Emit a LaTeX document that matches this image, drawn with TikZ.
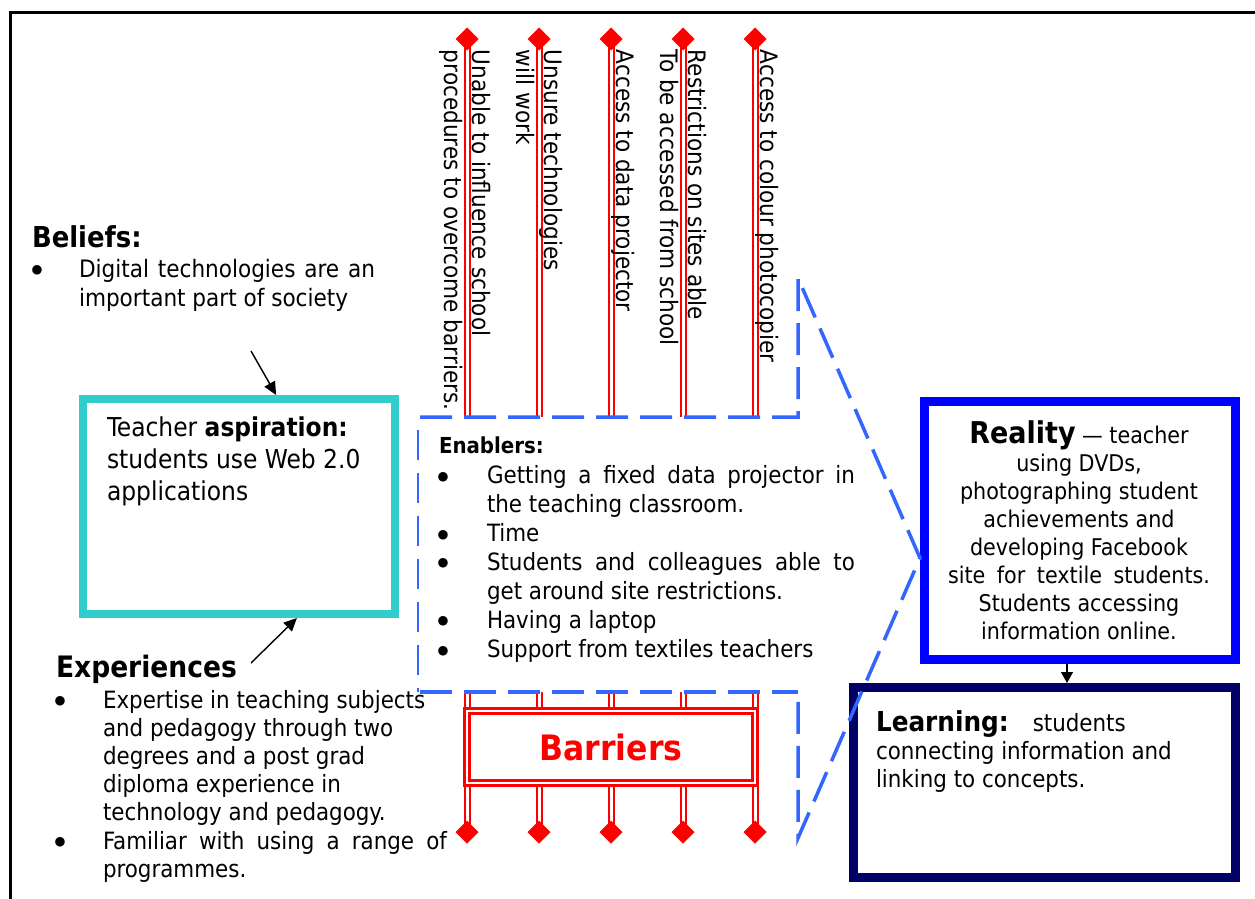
\documentclass[tikz,border=0pt]{standalone}
\usepackage{fontspec}
\setmainfont{DejaVu Sans Condensed}
\newfontfamily\symf{DejaVu Sans}
\usetikzlibrary{arrows.meta,shapes.geometric,calc}
\definecolor{dblue}{RGB}{51,102,255}
\definecolor{cyanb}{RGB}{51,204,204}
\definecolor{realb}{RGB}{0,0,255}
\definecolor{navyb}{RGB}{0,0,102}
\newcommand{\jl}[2]{\makebox[#1][s]{#2}}
\newcommand{\llines}[1]{\vtop{\halign{##\hfil\cr#1\crcr}}}
\newcommand{\clines}[1]{\vtop{\halign{\hfil##\hfil\cr#1\crcr}}}
\pgfdeclarelayer{background}
\pgfsetlayers{background,main}
\begin{document}
\begin{tikzpicture}[x=1pt,y=-1pt,
  every node/.style={inner sep=0pt,outer sep=0pt},
  bul/.style={font=\symf\fontsize{12.5}{13}\selectfont, anchor=center},
  vtext/.style={font=\fontsize{24}{28}\selectfont, rotate=-90, anchor=base west},
  bardiam/.style={diamond, fill=red, minimum width=23pt, minimum height=23pt},
  barline/.style={draw=red, line width=2pt, double=white, double distance=3pt},
  calldash/.style={draw=dblue, line width=3.5pt, dash pattern=on 32pt off 12pt},
  thindash/.style={draw=dblue, line width=1.5pt, dash pattern=on 30pt off 13pt},
  arr/.style={line width=1.4pt, -{Triangle[length=13pt,width=12pt]}},
  arrs/.style={line width=1.2pt, -{Triangle[length=11pt,width=12pt]}},
]
\useasboundingbox (0,0) rectangle (1255,899);
% frame
\draw[line width=3pt] (1262,13) -- (10,13) -- (10,905);

% callout (enablers) white body
\coordinate (ca) at (420,417);
\coordinate (cb) at (798,417);
\coordinate (cc) at (798,278);
\coordinate (ct) at (920,558);
\coordinate (cd) at (798,838);
\coordinate (ce) at (798,692);
\coordinate (cf) at (420,692);
\fill[white] (ca) -- (cb) -- (cc) -- (ct) -- (cd) -- (ce) -- (cf) -- cycle;

% barrier diamonds and box
\foreach \i/\x in {1/467,2/539,3/611,4/683,5/755} {
  \node[bardiam] (dt\i) at (\x,39) {};
  \node[bardiam] (db\i) at (\x,832) {};
}
\node[draw=red, line width=2.4pt, double=white, double distance=2.8pt,
  minimum width=288pt, minimum height=72pt, text=red,
  font=\fontsize{35}{35}\selectfont\bfseries] (bar) at (611,747) {Barriers};
\begin{pgfonlayer}{background}
\foreach \i in {1,...,5} {
  \draw[barline] (dt\i.center) -- (dt\i.center |- bar.north);
  \draw[barline] (db\i.center) -- (db\i.center |- bar.south);
}
\end{pgfonlayer}

% boxes
\node[draw=cyanb, line width=8pt, outer sep=4pt, minimum width=312pt, minimum height=215pt] (asp) at (239,506.5) {};
\node[draw=realb, line width=9pt, outer sep=4.5pt, minimum width=311pt, minimum height=258pt] (real) at (1080,530.5) {};
\node[draw=navyb, line width=9pt, outer sep=4.5pt, minimum width=382pt, minimum height=190pt] (learn) at (1044.5,782.5) {};

% callout dashed outline
\draw[calldash] (ca) -- (cb) -- (cc) -- (ct) -- (cd) -- (ce);
\draw[calldash] (cf) -- (ce);
\draw[thindash] (418,430) -- (418,692);

% vertical barrier texts
\node[vtext] (v1a) at (472,50) {Unable to influence school};
\node[vtext] (v1b) at (444,50) {procedures to overcome barriers.};
\node[vtext] (v2a) at (544,50) {Unsure technologies};
\node[vtext] (v2b) at (516,50) {will work};
\node[vtext] (v3a) at (616,50) {Access to data projector};
\node[vtext] (v4a) at (688,50) {Restrictions on sites able};
\node[vtext] (v4b) at (660,50) {To be accessed from school};
\node[vtext] (v5a) at (760,50) {Access to colour photocopier};

% beliefs
\node[anchor=base west, font=\fontsize{28.8}{30}\selectfont\bfseries] (beliefs) at (32,247) {Beliefs:};
\node[bul] (bb1) at (37,270) {●};
\node[anchor=base west, font=\fontsize{24}{29.5}\selectfont] (beltxt) at (79,277) {\llines{\jl{296pt}{Digital technologies are an}\cr important part of society}};

% aspiration text
\node[anchor=base west, font=\fontsize{26}{32}\selectfont] (asptxt) at (107,436) {\llines{Teacher \textbf{aspiration:}\cr students use Web 2.0\cr applications}};

% experiences
\node[anchor=base west, font=\fontsize{29.5}{30}\selectfont\bfseries] (exp) at (56,677) {Experiences};
\node[bul] (eb1) at (60,701) {●};
\node[bul] (eb2) at (60,842) {●};
\node[anchor=base west, font=\fontsize{23.8}{28.2}\selectfont] (exptxt) at (103,708) {\llines{Expertise in teaching subjects\cr and pedagogy through two\cr degrees and a post grad\cr diploma experience in\cr technology and pedagogy.\cr \jl{344pt}{Familiar with using a range of}\cr programmes.}};

% enablers
\node[anchor=base west, font=\fontsize{22}{29}\selectfont\bfseries] (enab) at (439,453) {Enablers:};
\node[bul] (nb1) at (443,477) {●};
\node[bul] (nb2) at (443,535) {●};
\node[bul] (nb3) at (443,563) {●};
\node[bul] (nb4) at (443,621) {●};
\node[bul] (nb5) at (443,651) {●};
\node[anchor=base west, font=\fontsize{23.8}{29}\selectfont] (enabtxt) at (487,483) {\llines{\jl{368pt}{Getting a fixed data projector in}\cr the teaching classroom.\cr Time\cr \jl{368pt}{Students and colleagues able to}\cr get around site restrictions.\cr Having a laptop\cr Support from textiles teachers}};

% reality text
\node[anchor=base, font=\fontsize{23}{28}\selectfont] (realtxt) at (1079,443) {\clines{{\fontsize{30}{30}\selectfont\bfseries Reality} — teacher\cr using DVDs,\cr photographing student\cr achievements and\cr developing Facebook\cr \jl{262pt}{site for textile students.}\cr Students accessing\cr information online.}};

% learning text
\node[anchor=base west, font=\fontsize{23.8}{28}\selectfont] (learntxt) at (876,731) {\llines{{\fontsize{27.5}{30}\selectfont\bfseries Learning:}\hspace{24pt}students\cr connecting information and\cr linking to concepts.}};

% arrows
\coordinate (btail) at (251,351);
\draw[arr] (btail) -- ($(asp.north west)!0.616!(asp.north east)$);
\coordinate (etail) at (251,663);
\draw[arr] (etail) -- ($(asp.south west)!0.681!(asp.south east)$);
\coordinate (rlx) at (1067,0);
\draw[arrs] (real.south -| rlx) -- (learn.north -| rlx);
\end{tikzpicture}
\end{document}
